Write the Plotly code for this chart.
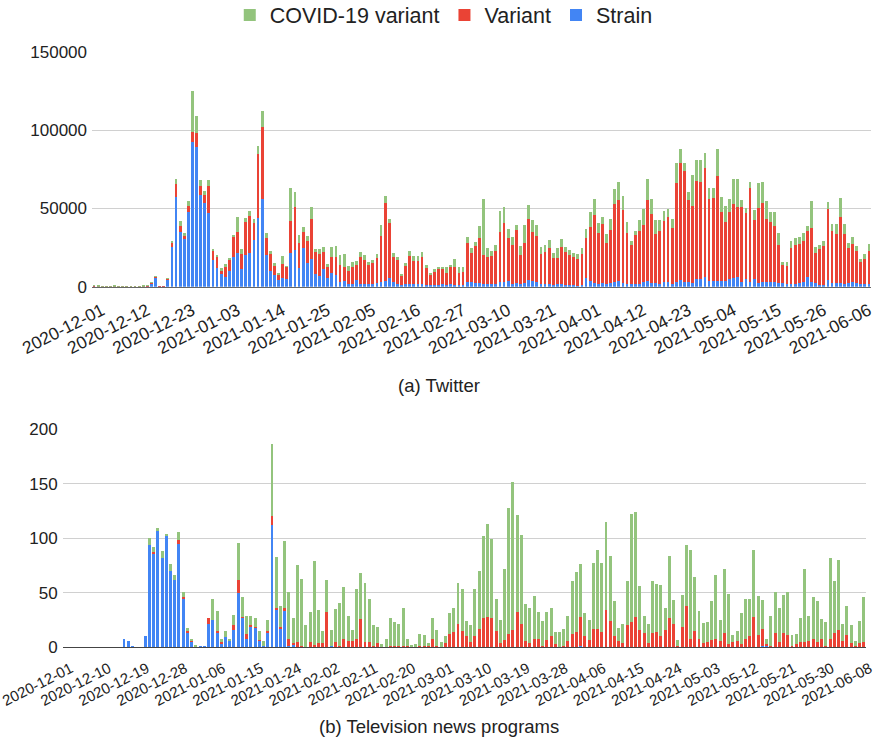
import pandas as pd
import plotly.graph_objects as go

# ---------------- data ----------------
dates = pd.date_range("2020-12-01", "2021-06-08", freq="D")

# Twitter (a)
tw_strain = [600, 300, 200, 200, 300, 200, 100, 200, 300, 200, 100, 200, 300, 500,
             2500, 6000, 500, 300, 5100, 25100, 57500, 35100, 30200, 47900, 92600, 89400,
             58500, 53200, 46800, 17000, 12100, 7900, 6000, 10000, 19200, 21300, 11300,
             20200, 21700, 29800, 44000, 55900, 20200, 10000, 7400, 4300,
             5700, 4900, 21300, 23400, 12100, 24500, 14900, 17400, 8100, 6800, 11100, 5300,
             8500, 7400, 3200, 3600, 1700, 1700, 4300, 1700, 1700, 1700, 1700, 2100, 3200,
             3600, 5300, 3200, 1700, 1100, 1700, 1700, 1700, 1700, 1700, 1100, 1100, 1100,
             1100, 1700, 1100, 1700, 1100, 1100, 1100, 3200, 3200,
             2100, 2100, 1700, 1700, 1700, 1700, 3200, 3200, 3600, 1700, 2600, 1700, 2100,
             4300, 3800, 3200, 1700, 1700, 1700, 1100, 1700, 1700, 1100, 1100, 1100, 600,
             1100, 5700, 3800, 2600, 1700, 2100, 1700, 2100, 3200, 3600, 2100, 1700, 1700,
             1700, 1700, 3200, 3800, 2100,
             2100, 1700, 3200, 3200, 1700, 3200, 4300, 3200, 3200, 2100, 4700, 4700, 6400,
             3600, 3600, 3600, 3600, 3600, 4900, 5300, 6400, 3200, 4700, 3200, 4900, 2600,
             3200, 3200, 3200, 3200, 2600, 2600, 1700, 1700, 1700, 2100, 3200, 6400, 3200,
             2100, 1100, 1100, 4300, 2100, 2100, 2100, 1700, 2100, 3200, 2500, 2000, 2000,
             1500]
tw_variant = [100, 100, 100, 200, 100, 400, 300, 100, 100, 200, 100, 100, 300, 500,
              200, 400, 100, 100, 400, 3200, 8100, 3800, 2300, 3600, 6400, 8900, 5700,
              5300, 17400, 5700, 6600, 2800, 6800, 7400, 12800, 13800, 9600, 21300, 23400,
              11100, 40600, 46200, 10900, 11000, 5700, 3200,
              9100, 7900, 20900, 27700, 15500, 10600, 14300, 25500, 14300, 14300, 10900,
              7400, 10600, 11700, 10600, 9100, 8500, 10600, 9600, 17000, 15300, 12300,
              13600, 16000, 29400, 50000, 35100, 16000, 15300, 6400, 11500, 17900, 15000,
              15000, 17000, 10600, 6800, 8900, 10000, 9400, 7900, 11100, 11700, 7400, 8500,
              24500, 18500,
              23800, 29200, 18500, 17000, 17700, 21300, 31900, 37700, 27700, 24900, 33600,
              18500, 25500, 38700, 31300, 29200, 19100, 20600, 23200, 17400, 16800, 23400,
              21300, 19100, 18100, 17200, 19600, 25500, 34500, 43200, 32800, 37700, 26400,
              34000, 49600, 51700, 46800, 32800, 24900, 31300, 34000, 36200, 51500, 44300,
              31500, 34000, 38900, 41100, 36000, 62800, 74500, 70900, 52100, 49400, 62800,
              62400, 69200, 52100, 53200, 67000, 43800, 37900, 43000, 47500, 44700, 47900,
              42600, 59600, 37700, 47500, 50400, 39800, 38300, 35500, 24000, 11300, 11500,
              22800, 24900, 25100, 26000, 29200, 34000, 19600, 22800, 25100, 45300, 33400,
              31500, 42100, 31900, 22300, 24000, 20000, 14000, 15500, 21500]
tw_covid = [100, 300, 100, 100, 100, 100, 100, 100, 100, 100, 200, 300, 100, 100,
            100, 200, 0, 0, 100, 850, 3200, 3000, 1700, 3400, 26200, 10600, 3800, 2600,
            3800, 1500, 1700, 1100, 1500, 600, 1300, 9200, 3400, 2100, 3400, 2100, 5300,
            10000, 3000, 1500, 1900, 1500,
            5100, 400, 21100, 9600, 5500, 3200, 3200, 7700, 1700, 2800, 3600, 1500, 6400,
            7000, 6400, 7900, 2800, 3200, 2600, 3600, 3200, 1500, 1700, 2600, 6800, 4300,
            2600, 2100, 2100, 600, 1700, 3200, 2600, 2600, 3200, 2100, 1100, 1100, 1700,
            1700, 3400, 1300, 4700, 4000, 3000, 3800, 3200,
            2800, 7400, 35500, 6000, 3200, 3600, 13200, 9800, 5700, 5300, 3200, 6000, 12100,
            8900, 7400, 6800, 4300, 4300, 4900, 3200, 6000, 5100, 3200, 3200, 2100, 3000,
            4300, 5700, 9600, 10000, 6000, 4500, 5500, 7400, 9600, 11700, 8900, 7000, 2800,
            2800, 6800, 10400, 13400, 9400,
            8900, 6800, 6200, 5500, 5300, 12800, 8900, 4700, 4900, 19800, 13400, 13800,
            10000, 7400, 6000, 17000, 10000, 10000, 7900, 15700, 17400, 4300, 3200, 4300,
            6400, 16400, 13000, 11700, 6400, 9100, 7400, 2100, 2800, 4700, 4300, 4700, 5300,
            3200, 17700, 3800, 2800, 3200, 4500, 4300, 6200, 12600, 6400, 3600, 4700, 3500,
            2000, 3500, 4000]

# Television news programs (b)
tv_strain = [0] * 14 + [8, 6, 1, 0, 0, 10, 94, 86, 107, 82, 102, 70, 62, 95, 44, 13, 5, 1, 1, 1,
             21, 25, 14, 3, 9, 6, 16, 50, 27, 8, 19, 18, 6, 1, 13, 112, 34, 17, 33, 1, 3,
             0, 0, 0, 0, 0, 0, 0, 0, 1] + [0] * 58 + [1] + [0] * 42 + [1, 1] + [0] * 23
tv_variant = [0] * 20 + [0, 1, 0, 0, 0, 0, 0, 3, 2, 2, 1, 0, 0, 0, 6, 0, 1, 2, 0, 0, 4, 12, 1,
              4, 1, 1, 1, 0, 2, 8, 2, 2, 3, 7, 1, 5, 1, 0, 5, 2, 4, 4, 32, 0, 5, 1, 8, 6,
              6, 8, 26, 5, 5, 1, 4, 0, 0, 1, 1, 1, 1, 1, 0, 0, 1, 1, 1, 8, 1, 0, 4, 12, 14,
              21, 15, 10, 5, 10, 17, 27, 28, 27, 15, 4, 7, 12, 16, 32, 21, 6, 4, 8, 8, 1,
              7, 10, 3, 0, 1, 6, 12, 14, 27, 10, 7, 17, 17, 14, 34, 24, 10, 6, 4, 20, 23,
              28, 16, 13, 4, 13, 14, 10, 16, 27, 21, 1, 19, 38, 8, 15, 8, 4, 5, 7, 8, 6,
              13, 3, 5, 6, 3, 8, 10, 28, 11, 16, 2, 1, 13, 5, 13, 11, 1, 3, 5, 5, 6, 8, 5,
              8, 1, 8, 13, 16, 6, 11, 4, 1, 4, 5]
tv_covid = [0] * 20 + [6, 5, 2, 6, 2, 6, 4, 8, 5, 3, 1, 1, 0, 0, 0, 19, 18, 3, 6, 2, 10, 34, 18,
            17, 9, 8, 8, 5, 10, 66, 47, 19, 61, 43, 23, 70, 62, 20, 27, 77, 30, 11, 30,
            15, 30, 40, 47, 23, 10, 45, 42, 54, 39, 19, 15, 3, 8, 26, 22, 20, 35, 7, 2, 3,
            11, 10, 3, 19, 15, 5, 6, 19, 22, 38, 38, 14, 15, 43, 53, 75, 85, 72, 29, 21,
            65, 116, 135, 89, 82, 34, 32, 39, 24, 23, 25, 26, 11, 14, 16, 23, 49, 55, 48,
            21, 18, 60, 72, 63, 81, 60, 32, 12, 17, 41, 99, 96, 40, 16, 17, 48, 44, 47,
            20, 57, 22, 6, 29, 56, 81, 49, 25, 18, 18, 35, 58, 19, 59, 46, 6, 9, 28, 36,
            34, 61, 36, 26, 5, 28, 38, 31, 35, 40, 10, 9, 22, 67, 23, 38, 37, 18, 22, 74,
            48, 64, 15, 27, 16, 5, 20, 41]

tw_ticks = ["2020-12-01", "2020-12-12", "2020-12-23", "2021-01-03", "2021-01-14",
            "2021-01-25", "2021-02-05", "2021-02-16", "2021-02-27", "2021-03-10",
            "2021-03-21", "2021-04-01", "2021-04-12", "2021-04-23", "2021-05-04",
            "2021-05-15", "2021-05-26", "2021-06-06"]
tv_ticks = ["2020-12-01", "2020-12-10", "2020-12-19", "2020-12-28", "2021-01-06",
            "2021-01-15", "2021-01-24", "2021-02-02", "2021-02-11", "2021-02-20",
            "2021-03-01", "2021-03-10", "2021-03-19", "2021-03-28", "2021-04-06",
            "2021-04-15", "2021-04-24", "2021-05-03", "2021-05-12", "2021-05-21",
            "2021-05-30", "2021-06-08"]

series_names = ["Strain", "Variant", "COVID-19 variant"]
colors = {"Strain": "#4285f4", "Variant": "#ea4335", "COVID-19 variant": "#93c47d"}

# ---------------- figure ----------------
W, H = 877, 752
FONT = "Arial, Liberation Sans, sans-serif"
TXT = "#222222"

fig = go.Figure()
for name, vals in zip(series_names, [tw_strain, tw_variant, tw_covid]):
    fig.add_trace(go.Bar(x=dates, y=vals, name=name, marker_color=colors[name],
                         marker_line_width=0, xaxis="x", yaxis="y", legendgroup=name))
for name, vals in zip(series_names, [tv_strain, tv_variant, tv_covid]):
    fig.add_trace(go.Bar(x=dates, y=vals, name=name, marker_color=colors[name],
                         marker_line_width=0, xaxis="x2", yaxis="y2", legendgroup=name,
                         showlegend=False))

def px_x(p):
    return p / W

def px_y(p):
    return 1 - p / H

xrange = ["2020-11-30 12:00", "2021-06-08 12:00"]
ytickfont = dict(family=FONT, size=17, color=TXT)

common_x = dict(type="date", range=xrange, tickmode="array", tickangle=-27,
                showgrid=False, showline=True, linewidth=1,
                ticks="", automargin=False, ticklabeloverflow="allow",
                ticklabelstandoff=6)
common_y = dict(tickmode="array", tickformat="d", tickfont=ytickfont,
                gridcolor="#d0d0d0", gridwidth=1, zeroline=False, showline=False,
                ticks="", automargin=False, ticklabelstandoff=4)

fig.update_layout(
    width=W, height=H,
    margin=dict(l=0, r=0, t=0, b=0, autoexpand=False),
    paper_bgcolor="white", plot_bgcolor="white",
    barmode="stack", bargap=0.3,
    font=dict(family=FONT, size=16, color=TXT),
    showlegend=True,
    legend=dict(orientation="h", x=0.506, xanchor="center", y=px_y(15), yanchor="middle",
                traceorder="reversed", font=dict(family=FONT, size=21.5, color=TXT),
                itemwidth=30),
    xaxis=dict(domain=[px_x(92), px_x(871)], anchor="y", tickvals=tw_ticks,
               ticktext=tw_ticks, linecolor="#666666", ticklabelshift=8,
               tickfont=dict(family=FONT, size=17.5, color=TXT), **common_x),
    yaxis=dict(domain=[px_y(286.7), px_y(51.7)], anchor="x", range=[0, 150000],
               tickvals=[0, 50000, 100000, 150000], **common_y),
    xaxis2=dict(domain=[px_x(62.7), px_x(866)], anchor="y2", tickvals=tv_ticks,
                ticktext=tv_ticks, linecolor="#444444", ticklabelshift=6,
                tickfont=dict(family=FONT, size=15, color=TXT), **common_x),
    yaxis2=dict(domain=[px_y(647.3), px_y(429)], anchor="x2", range=[0, 200],
                tickvals=[0, 50, 100, 150, 200], **common_y),
    annotations=[
        dict(text="(a) Twitter", x=0.5, y=px_y(385), xref="paper", yref="paper",
             showarrow=False, font=dict(family=FONT, size=18.5, color=TXT)),
        dict(text="(b) Television news programs", x=0.5, y=px_y(739), xref="paper",
             yref="paper", showarrow=False, font=dict(family=FONT, size=18.5, color=TXT)),
    ],
)

fig.write_html("out.html")
